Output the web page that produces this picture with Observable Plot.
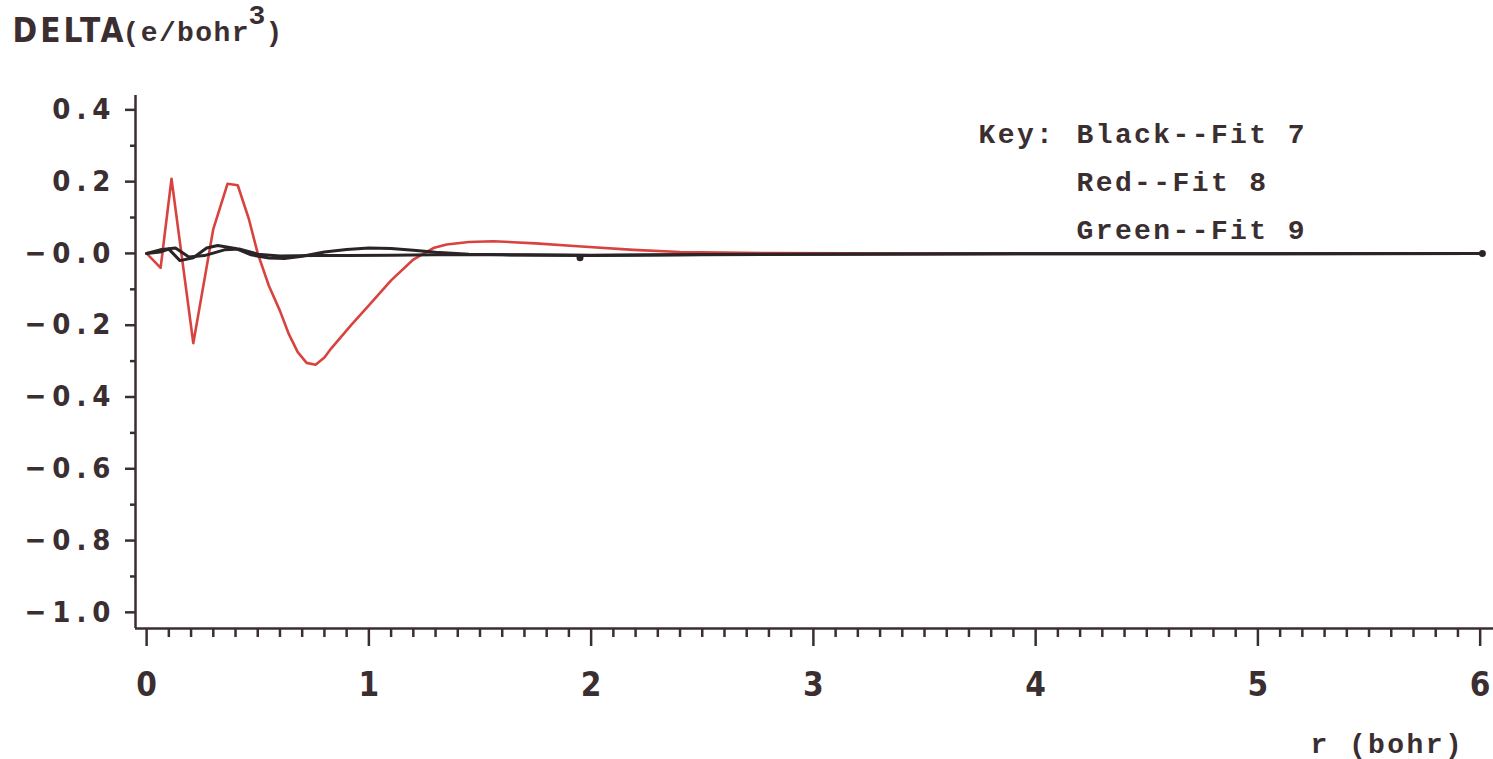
<!DOCTYPE html>
<html>
<head>
<meta charset="utf-8">
<script src="https://cdn.jsdelivr.net/npm/d3@7"></script>
<script src="https://cdn.jsdelivr.net/npm/@observablehq/plot@0.6"></script>
<style>
  html, body { margin: 0; padding: 0; background: #fff; }
  #chart { width: 1493px; height: 759px; overflow: hidden; }
  g[aria-label="y-axis tick label"] text { letter-spacing: 6px; }
</style>
</head>
<body>
<div id="chart"></div>
<script>
// Radial density differences DELTA(r) for three fits, r in bohr
const fit8R = [0, 0.063, 0.112, 0.21, 0.30, 0.364, 0.41, 0.46, 0.50, 0.55, 0.60, 0.64, 0.68, 0.72, 0.76, 0.80, 0.83, 0.92, 1.00, 1.10, 1.20, 1.29, 1.35, 1.45, 1.56, 1.75, 1.94, 2.19, 2.40, 2.80, 3.50, 4.50, 6.00];
const fit8V = [0, -0.04, 0.208, -0.25, 0.068, 0.194, 0.19, 0.096, 0, -0.09, -0.16, -0.225, -0.275, -0.305, -0.31, -0.29, -0.265, -0.20, -0.145, -0.075, -0.017, 0.015, 0.025, 0.032, 0.034, 0.028, 0.02, 0.01, 0.004, 0.001, 0, 0, 0];

const fit7R = [0, 0.06, 0.13, 0.19, 0.26, 0.35, 0.42, 0.50, 0.60, 0.75, 0.90, 1.10, 1.30, 1.60, 2.00, 2.50, 3.00, 4.00, 5.00, 6.00];
const fit7V = [0, 0.01, 0.015, -0.01, -0.006, 0.01, 0.012, -0.002, -0.007, -0.006, -0.006, -0.005, -0.004, -0.004, -0.006, -0.004, -0.002, -0.001, -0.001, 0];

const fit9R = [0, 0.06, 0.10, 0.15, 0.21, 0.27, 0.32, 0.40, 0.47, 0.55, 0.62, 0.70, 0.80, 0.90, 1.00, 1.10, 1.20, 1.30, 1.45, 1.70, 2.00, 2.50, 3.00, 4.00, 5.00, 6.00];
const fit9V = [0, 0.004, 0.012, -0.02, -0.012, 0.015, 0.022, 0.014, -0.004, -0.013, -0.014, -0.008, 0.004, 0.011, 0.015, 0.014, 0.009, 0.003, -0.002, -0.004, -0.005, -0.003, -0.002, -0.001, -0.001, 0];

// pen marks left on the dark trace
const penR = [1.95, 6.01];
const penV = [-0.012, 0];

const yTicks = [0.4, 0.2, 0, -0.2, -0.4, -0.6, -0.8, -1.0];
const yTickLabels = ["0.4", "0.2", "\u22120.0", "\u22120.2", "\u22120.4", "\u22120.6", "\u22120.8", "\u22121.0"];
const yMinor = [0.3, 0.1, -0.1, -0.3, -0.5, -0.7, -0.9];
const xTicks = [0, 1, 2, 3, 4, 5, 6];
const xTickLabels = ["0", "1", "2", "3", "4", "5", "6"];
const xMinor = d3.range(1, 61).map(i => i / 10).filter(t => Math.abs(t - Math.round(t)) > 1e-9);

const keyTitle = "Key:";
const keyLabels = ["Black--Fit 7", "Red--Fit 8", "Green--Fit 9"];
const titleMain = "DELTA";
const titleUnit = "(e/bohr";
const titlePower = "3";
const titleClose = ")";
const xTitle = "r (bohr)";

const rows = (rs, vs) => rs.map((r, i) => ({r, v: vs[i]}));

const ink = "#3b2e31";
const dark = "#2b2427";
const red = "#d9433f";
const narrow = "'Liberation Sans Narrow', 'DejaVu Sans Condensed', 'Roboto Condensed', 'Liberation Sans', sans-serif";
const mono = "'Liberation Mono', 'DejaVu Sans Mono', monospace";

// one text mark per label, anchored to the frame's top-left corner
const label = (s, dx, dy, opts = {}) => Plot.text([s], {
  text: d => d, frameAnchor: "top-left", dx, dy, lineAnchor: "bottom", textAnchor: "start",
  fontFamily: mono, fontWeight: "bold", fontSize: 28, fill: ink, ...opts
});

const chart = Plot.plot({
  width: 1493,
  height: 759,
  marginLeft: 135,
  marginRight: 0,
  marginTop: 95,
  marginBottom: 131,
  x: {domain: [-0.05, 6.06]},
  y: {domain: [-1.045, 0.44]},
  style: {background: "#fff", color: ink, overflow: "visible"},
  marks: [
    // axes
    Plot.axisY({ticks: yMinor, tickSize: 5, fill: "none", stroke: ink, strokeWidth: 2.5, label: null}),
    Plot.axisY({
      ticks: yTicks, tickSize: 10, tickPadding: 9,
      tickFormat: d => yTickLabels[yTicks.indexOf(d)],
      stroke: ink, strokeWidth: 2.5, fill: ink,
      fontFamily: narrow, fontWeight: "bold", fontSize: 29, label: null
    }),
    Plot.axisX({ticks: xMinor, tickSize: 9, fill: "none", stroke: ink, strokeWidth: 2.5, label: null}),
    Plot.axisX({
      ticks: xTicks, tickSize: 18, tickPadding: 26,
      tickFormat: d => xTickLabels[xTicks.indexOf(d)],
      stroke: ink, strokeWidth: 2.5, fill: ink,
      fontFamily: narrow, fontWeight: "bold", fontSize: 33, label: null
    }),
    Plot.ruleX([-0.05], {y1: -1.045, y2: 0.44, stroke: ink, strokeWidth: 2.5}),
    Plot.ruleY([-1.045], {x1: -0.05, x2: 6.06, stroke: ink, strokeWidth: 2.5}),

    // curves
    Plot.line(rows(fit8R, fit8V), {x: "r", y: "v", stroke: red, strokeWidth: 2.6, strokeLinejoin: "round"}),
    Plot.line(rows(fit9R, fit9V), {x: "r", y: "v", stroke: dark, strokeWidth: 3, strokeLinejoin: "round"}),
    Plot.line(rows(fit7R, fit7V), {x: "r", y: "v", stroke: dark, strokeWidth: 3, strokeLinejoin: "round"}),
    Plot.dot(rows(penR, penV), {x: "r", y: "v", r: 3.5, fill: dark}),

    // title
    label(titleMain, -123, -54, {fontFamily: narrow, fontSize: 33}),
    label(titleUnit, -13, -55),
    label(titlePower, 113, -72),
    label(titleClose, 130, -55),

    // key
    label(keyTitle, 843, 47),
    ...keyLabels.map((s, i) => label(s, 941, 47 + 48 * i)),

    // x-axis title
    label(xTitle, 1175, 657)
  ]
});

// typewriter-like spacing for the text labels
const spacing = new Map([
  [titleMain, "3px"], [titleUnit, "1.4px"], [titlePower, "0px"], [titleClose, "0px"],
  [keyTitle, "2.4px"], [xTitle, "2.4px"], ...keyLabels.map(s => [s, "2.4px"])
]);
d3.select(chart).selectAll("g[aria-label='text'] text").each(function () {
  const s = spacing.get(this.textContent);
  if (s) this.style.letterSpacing = s;
});

document.getElementById("chart").appendChild(chart);
</script>
</body>
</html>
